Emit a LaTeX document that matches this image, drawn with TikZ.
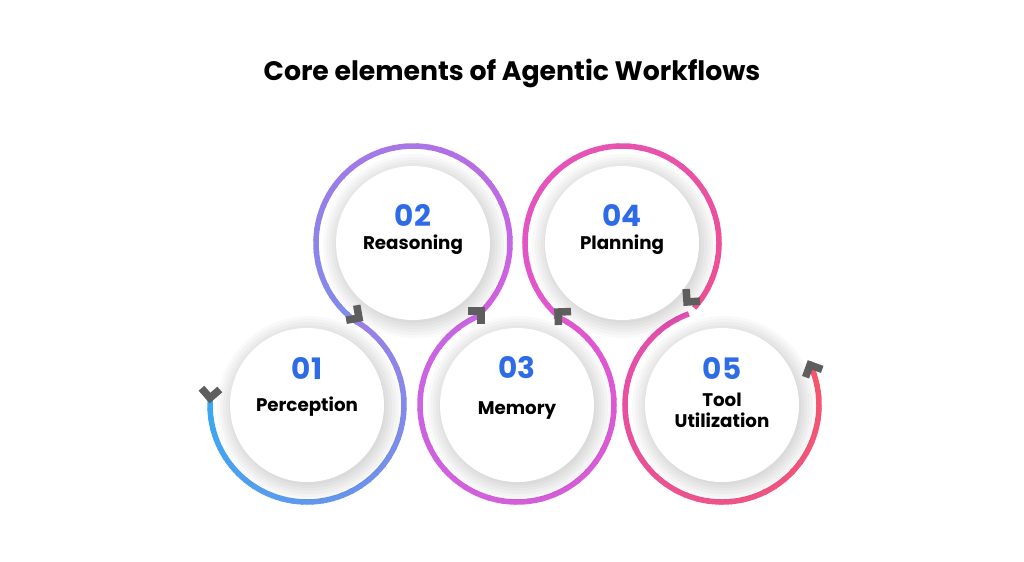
\documentclass[tikz,border=0pt]{standalone}
\usepackage{fontspec}
\setmainfont{Poppins}
\definecolor{numblue}{HTML}{2E6BE6}
\definecolor{markgray}{HTML}{5E5E5E}
\definecolor{cA}{HTML}{3AA8F2}
\definecolor{cB}{HTML}{9A80E6}
\definecolor{cC}{HTML}{7E8CEC}
\definecolor{cD}{HTML}{D25FE2}
\definecolor{cE}{HTML}{C766E6}
\definecolor{cF}{HTML}{E056CF}
\definecolor{cG}{HTML}{EE4F92}
\definecolor{cH}{HTML}{E24EB2}
\definecolor{cI}{HTML}{F5566A}

% gradient ring: centre x, centre y, start angle, end angle, colour from, colour to
\newcommand{\ringarc}[6]{%
  \foreach \i in {0,...,39}{%
    \pgfmathsetmacro{\a}{#3+(#4-#3)*\i/40}%
    \pgfmathsetmacro{\b}{#3+(#4-#3)*(\i+1.15)/40}%
    \pgfmathtruncatemacro{\p}{100-100*\i/39}%
    \draw[ring, draw=#5!\p!#6] ([shift={(\a:97)}]#1,#2) arc (\a:\b:97);
  }}
% soft halo round a disk
\newcommand{\halo}[2]{%
  \foreach \r in {92,89,...,77}{%
    \fill[black, opacity=0.025] (#1+2,#2-3) circle (\r);
  }}
% chevron marker at a point, rotated along the path
\newcommand{\marker}[3]{%
  \draw[chevron] ([shift={(#3+135:13)}]#1,#2) -- (#1,#2) -- ([shift={(#3-135:13)}]#1,#2);}

\tikzset{
  ring/.style={line width=5.5*0.025cm},
  chevron/.style={markgray, line width=7.5*0.025cm, line cap=butt, line join=miter},
  disk/.style={circle, fill=white, minimum size=154*0.025cm, inner sep=0pt},
  num/.style={numblue, font=\fontsize{21}{24}\selectfont\bfseries},
  lbl/.style={align=center, font=\fontsize{13}{15}\selectfont\bfseries},
}

\begin{document}
\begin{tikzpicture}[x=0.025cm, y=0.025cm]
\useasboundingbox[fill=white] (0,0) rectangle (1024,-561);

\node[font=\fontsize{19}{22}\selectfont\bfseries] (title) at (512,-73) {Core elements of Agentic Workflows};

% rings
\ringarc{307}{-405}{176}{418}{cA}{cB}
\ringarc{413}{-243}{235}{-45}{cC}{cD}
\ringarc{517}{-405}{111}{426}{cE}{cF}
\ringarc{622}{-243}{227}{-41}{cF}{cG}
\ringarc{722}{-405}{110}{385}{cH}{cI}

% inner disks
\halo{307}{-405}
\halo{413}{-243}
\halo{517}{-405}
\halo{622}{-243}
\halo{722}{-405}
\node[disk] (d1) at (307,-405) {};
\node[disk] (d2) at (413,-243) {};
\node[disk] (d3) at (517,-405) {};
\node[disk] (d4) at (622,-243) {};
\node[disk] (d5) at (722,-405) {};

\node[num] (n1) at (307,-368) {01};
\node[lbl] (l1) at (307,-407) {Perception};
\node[num] (n2) at (413,-215) {02};
\node[lbl] (l2) at (413,-245) {Reasoning};
\node[num] (n3) at (517,-368) {03};
\node[lbl] (l3) at (517,-410) {Memory};
\node[num] (n4) at (622,-215) {04};
\node[lbl] (l4) at (622,-245) {Planning};
\node[num] (n5) at (722,-368) {05};
\node[lbl] (l5) at (722,-410) {Tool\\Utilization};

% markers
\marker{210}{-398}{266}
\marker{359}{-318}{325}
\marker{481}{-311}{45}
\marker{558}{-312}{137}
\marker{687}{-302}{229}
\marker{810}{-365}{115}
\end{tikzpicture}
\end{document}
